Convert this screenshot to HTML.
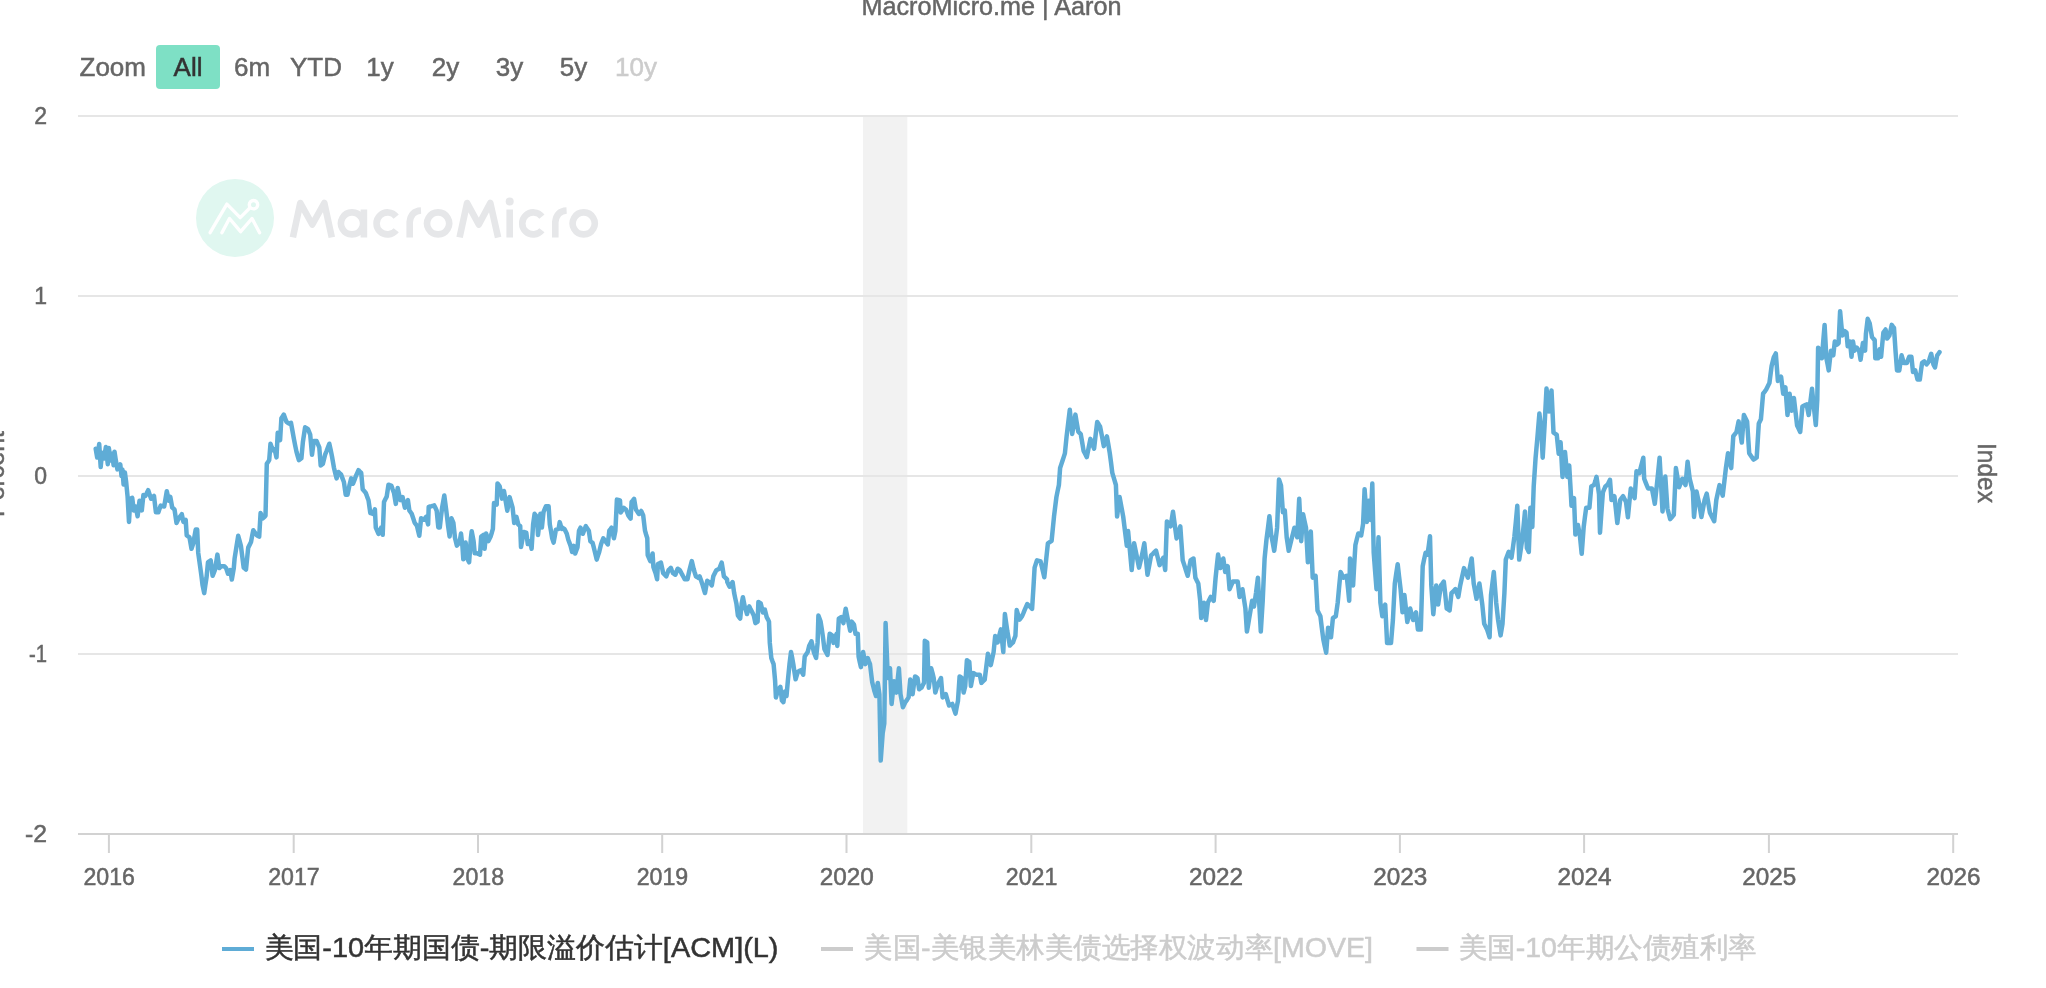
<!DOCTYPE html>
<html><head><meta charset="utf-8"><style>
html,body{margin:0;padding:0;background:#ffffff;width:2046px;height:988px;overflow:hidden;position:relative}
svg text{font-family:"Liberation Sans",sans-serif}
</style></head><body>
<svg width="2046" height="988" viewBox="0 0 2046 988" style="position:absolute;left:0;top:0;will-change:transform">
<rect x="863" y="116" width="44.3" height="718" fill="#f2f2f2"/>
<rect x="78" y="115" width="1880" height="2" fill="#e6e6e6"/>
<rect x="78" y="295" width="1880" height="2" fill="#e6e6e6"/>
<rect x="78" y="475" width="1880" height="2" fill="#e6e6e6"/>
<rect x="78" y="653" width="1880" height="2" fill="#e6e6e6"/>
<rect x="78" y="833" width="1880" height="2" fill="#d2d2d2"/>
<rect x="107.9" y="835" width="2" height="18" fill="#d2d2d2"/>
<rect x="292.7" y="835" width="2" height="18" fill="#d2d2d2"/>
<rect x="477.0" y="835" width="2" height="18" fill="#d2d2d2"/>
<rect x="661.2" y="835" width="2" height="18" fill="#d2d2d2"/>
<rect x="845.5" y="835" width="2" height="18" fill="#d2d2d2"/>
<rect x="1030.3" y="835" width="2" height="18" fill="#d2d2d2"/>
<rect x="1214.6" y="835" width="2" height="18" fill="#d2d2d2"/>
<rect x="1398.9" y="835" width="2" height="18" fill="#d2d2d2"/>
<rect x="1583.1" y="835" width="2" height="18" fill="#d2d2d2"/>
<rect x="1767.9" y="835" width="2" height="18" fill="#d2d2d2"/>
<rect x="1952.2" y="835" width="2" height="18" fill="#d2d2d2"/>
<circle cx="235" cy="218" r="39" fill="#e0f7f0"/>
<g fill="none" stroke="#ffffff" stroke-width="3.4" stroke-linecap="round" stroke-linejoin="round"><polyline points="210.1,232.7 226.9,204.1 240.2,217.6 250,207.8"/><polyline points="221.9,232.7 229.5,218.5 240.6,231.6 252.0,218.5 259.6,232.7"/><circle cx="253.5" cy="204.7" r="4.2"/></g>
<g fill="none" stroke="#e6e7e9" stroke-width="6.6" stroke-linejoin="round"><path d="M292.9,237.4 L300.3,203 L312.3,224.5 L324.3,203 L331.8,237.4 M352.0,212.4 a11.0,11.0 0 1 0 0.01,0 M363.9,209.5 L363.9,237.4 M396.2,216.6 A11.0,11.0 0 1 0 396.2,230.2 M409.7,237.4 L409.7,222 Q411,211 421,210.5 M438.1,212.4 a11.0,11.0 0 1 0 0.01,0 M459.6,237.4 L467.1,203 L478.8,224.5 L490.3,203 L498.1,237.4 M509.7,209.5 L509.7,237.4 M541.9,216.6 A11.0,11.0 0 1 0 541.9,230.2 M555.3,237.4 L555.3,222 Q556.6,211 566.6,210.5 M583.7,212.4 a11.0,11.0 0 1 0 0.01,0"/></g>
<circle cx="509.7" cy="201.5" r="4" fill="#e6e7e9"/>
<polyline points="95.7,448.8 97.2,457.5 99.2,444.0 100.7,467.1 102.0,452.7 104.0,458.5 105.9,446.9 107.8,464.2 108.8,447.9 110.7,460.4 112.2,453.7 113.6,465.2 114.5,451.7 115.5,458.3 117.4,469.4 118.9,466.9 120.3,464.4 121.5,476.0 122.4,469.4 123.6,484.6 124.9,472.5 126.1,481.5 127.6,496.9 129.0,521.9 130.3,498.8 132.2,497.9 133.8,510.4 135.7,506.5 137.6,516.2 139.5,500.8 140.7,505.6 141.8,510.4 143.4,495.0 145.3,496.0 146.8,493.1 148.2,490.2 149.6,494.5 151.1,498.8 152.5,497.4 154.0,496.0 155.9,512.3 157.1,512.3 158.4,512.3 159.5,508.9 160.7,505.6 162.4,506.1 164.2,506.5 165.5,498.8 166.8,491.2 168.8,500.8 170.3,496.9 172.2,507.5 173.4,508.5 174.5,509.4 176.5,522.9 177.7,520.5 179.0,518.1 180.4,516.2 181.8,514.2 183.4,521.9 184.5,521.0 185.7,520.0 186.7,535.4 188.1,536.3 189.5,537.3 191.5,548.8 193.4,543.1 194.5,536.3 195.7,529.6 197.2,529.6 198.2,552.7 200.1,566.2 201.4,575.8 202.6,585.4 204.2,593.1 205.3,585.4 206.5,577.7 208.0,562.3 209.3,561.3 210.7,560.4 212.6,575.8 213.8,572.9 214.9,570.0 216.2,562.3 217.4,554.6 219.3,568.1 221.3,566.2 222.7,566.2 224.2,566.2 226.1,568.1 228.0,573.8 229.2,571.9 230.3,570.0 231.8,579.6 233.8,568.1 234.6,558.5 236.4,547.1 238.2,535.8 239.6,540.8 240.9,545.8 242.3,556.7 243.7,567.6 244.9,568.5 246.0,569.5 248.2,547.6 249.6,544.9 251.0,542.1 252.1,536.2 253.3,530.3 254.9,532.6 256.4,534.8 257.8,535.8 259.2,536.7 260.6,513.0 262.8,518.4 264.2,517.1 265.5,515.7 266.8,463.8 268.0,462.0 269.2,460.1 270.5,443.7 271.6,446.9 272.8,450.1 274.6,449.2 276.5,457.4 277.7,432.8 278.9,436.4 280.1,440.1 281.4,418.2 282.6,416.4 283.8,414.6 285.1,418.2 286.5,421.9 287.9,422.8 289.2,423.7 291.0,422.8 292.4,430.5 293.8,438.3 295.1,445.1 296.5,451.9 297.7,456.0 298.9,460.1 300.2,459.2 301.4,458.3 302.9,441.9 305.1,427.3 306.5,428.2 308.0,429.2 310.2,434.6 312.0,454.7 313.8,441.0 315.2,441.0 316.6,441.0 317.9,444.2 319.3,447.4 320.7,465.6 322.9,463.8 325.1,454.7 326.6,451.0 327.9,447.4 329.3,443.7 330.7,450.1 332.0,456.5 333.9,467.4 335.2,472.9 336.6,478.4 338.4,472.0 339.8,473.3 341.2,474.7 342.5,478.4 343.9,482.0 345.7,494.8 347.5,494.8 349.4,485.6 351.2,478.4 353.0,483.8 354.4,480.2 355.7,476.5 357.1,473.3 358.5,470.2 359.8,471.5 361.2,472.9 362.7,489.3 364.2,491.1 365.8,492.9 367.1,496.6 368.5,500.2 370.3,513.0 371.7,513.4 373.0,513.9 374.9,509.3 375.8,527.6 377.1,530.7 378.5,533.9 379.9,530.7 381.2,527.6 382.7,534.8 384.0,502.0 385.3,499.3 386.7,496.6 388.5,484.7 389.9,485.2 391.3,485.6 392.6,489.3 394.0,492.9 395.8,503.9 397.7,487.9 399.0,494.0 400.3,500.1 401.5,498.6 402.6,497.1 403.7,502.4 404.9,507.7 406.4,503.9 407.9,500.1 409.4,510.7 410.6,512.2 411.7,513.8 413.2,518.3 414.7,522.9 415.9,524.4 417.0,525.9 418.1,530.8 419.3,535.8 421.1,518.3 422.5,519.1 423.8,519.8 425.0,518.3 426.1,516.8 428.1,524.4 428.7,506.9 430.1,506.5 431.4,506.2 432.8,505.8 434.2,505.4 435.5,508.1 436.7,510.7 438.3,527.4 439.8,527.4 440.9,517.5 442.1,507.7 443.2,501.6 444.3,495.5 446.3,510.7 448.1,525.9 449.6,536.5 451.5,518.3 453.4,522.9 455.0,538.0 456.9,545.6 458.2,544.1 459.5,542.6 461.0,533.5 462.5,547.1 463.3,559.3 464.4,550.9 465.6,542.6 467.6,559.3 469.1,562.3 470.9,538.0 471.7,531.2 473.6,541.1 474.7,553.2 475.8,553.2 477.0,553.2 478.5,554.0 480.0,554.7 481.2,536.5 483.3,535.0 484.6,548.7 486.1,533.5 487.2,537.3 488.4,541.1 489.5,538.8 490.6,536.5 491.8,532.7 492.9,528.9 494.0,503.1 495.3,503.9 496.7,504.6 497.5,483.4 498.6,484.9 499.7,486.4 500.9,492.5 502.0,498.6 504.0,491.0 505.5,500.1 507.3,510.7 508.5,503.9 509.6,497.1 511.1,502.4 512.6,507.7 514.2,522.9 515.3,519.8 516.4,516.8 518.3,524.4 520.2,525.9 521.0,547.1 522.4,539.6 523.7,532.0 525.0,532.3 526.3,532.7 527.8,544.1 529.0,542.6 530.1,541.1 531.6,548.7 533.1,524.4 534.6,513.8 535.8,515.3 536.9,516.8 538.0,535.0 539.2,524.4 540.4,513.8 541.9,527.4 543.5,512.2 544.7,509.2 546.0,506.2 547.3,506.2 548.6,506.2 549.8,524.4 551.0,531.2 552.1,538.0 553.6,542.6 554.8,536.1 555.9,529.7 557.3,529.3 558.6,528.9 559.7,522.1 560.8,525.5 562.0,528.9 562.3,527.7 563.4,528.4 564.6,529.2 565.7,531.5 566.8,533.8 568.3,539.8 569.5,542.9 570.6,545.9 572.1,552.0 573.7,545.9 575.2,553.5 576.3,550.4 577.5,547.4 579.0,530.7 580.5,527.7 581.6,530.7 582.8,533.8 584.3,530.0 585.8,526.2 587.3,528.4 588.8,530.7 590.4,541.3 591.5,542.1 592.6,542.9 593.8,547.4 594.9,552.0 596.7,559.6 597.9,555.8 599.2,552.0 601.0,544.4 602.1,541.3 603.3,538.3 604.4,539.8 605.5,541.3 606.7,542.9 607.8,544.4 609.3,530.7 610.5,529.2 611.6,527.7 612.7,533.0 613.9,538.3 615.4,530.7 616.9,499.6 618.4,500.0 620.0,500.4 620.7,512.5 622.2,510.2 623.8,507.9 624.9,508.7 626.0,509.5 627.2,512.5 628.3,515.5 629.4,517.1 630.6,518.6 631.6,501.9 632.9,500.4 634.1,498.8 635.9,509.5 637.4,511.7 638.9,514.0 640.1,512.5 641.2,511.0 643.2,515.5 645.0,530.7 646.1,534.5 647.3,538.3 647.7,555.0 649.0,558.0 650.3,561.1 651.5,557.3 652.6,553.5 653.4,567.1 654.5,570.2 655.6,573.2 657.1,579.3 657.9,564.1 659.4,563.4 660.9,562.6 662.1,567.9 663.2,573.2 664.7,574.7 666.3,576.3 667.4,573.2 668.5,570.2 669.7,569.0 670.8,567.9 671.9,570.6 673.1,573.2 674.2,574.0 675.4,574.7 676.5,571.7 677.6,568.7 678.8,569.4 679.9,570.2 681.1,572.5 682.2,574.7 683.5,577.0 684.8,579.3 686.1,579.3 687.5,579.3 688.6,574.0 689.8,568.7 691.8,561.1 693.6,568.7 694.7,572.5 695.9,576.3 697.0,577.0 698.1,577.8 699.6,576.3 701.2,580.8 702.7,585.4 703.8,589.2 705.0,593.0 706.1,586.9 707.2,580.8 708.4,581.6 709.5,582.3 710.7,583.8 711.8,585.4 713.3,576.3 714.8,573.2 716.3,570.2 717.9,569.4 719.4,568.7 720.5,565.6 721.7,562.6 722.8,569.4 723.9,576.3 725.5,577.8 727.0,579.3 727.3,582.1 728.4,584.4 729.6,586.7 731.1,584.4 732.6,582.1 734.1,592.8 735.2,598.1 736.4,603.4 737.9,615.5 739.0,617.1 740.2,618.6 741.7,603.4 742.9,597.3 744.7,606.4 745.9,610.2 747.0,614.0 748.1,610.2 749.3,606.4 750.4,608.7 751.6,611.0 752.7,613.3 753.8,615.5 755.4,623.1 756.5,622.4 757.6,621.6 758.4,601.9 759.5,602.6 760.7,603.4 761.8,607.9 762.9,612.5 764.8,609.5 766.7,617.1 767.9,619.3 769.0,621.6 769.8,642.9 771.3,658.0 772.4,661.1 773.6,664.1 775.1,680.8 775.9,697.5 777.0,693.7 778.1,689.9 779.3,688.4 780.4,686.9 781.9,700.5 783.4,702.1 785.0,691.4 786.5,696.0 788.0,679.3 789.5,664.1 791.0,652.0 792.2,658.0 793.3,664.1 794.4,671.7 795.6,679.3 796.7,675.5 797.9,671.7 799.4,670.9 800.9,670.2 802.0,672.5 803.2,674.7 804.7,656.5 806.2,654.2 807.7,652.0 809.2,645.9 810.4,643.6 811.5,641.3 812.7,646.7 813.8,652.0 814.9,655.0 816.1,658.0 817.6,642.9 818.4,615.5 819.5,618.6 820.6,621.6 821.8,629.2 822.9,636.8 824.4,648.9 825.9,652.0 827.5,655.0 828.6,644.4 829.7,633.8 830.9,634.5 832.0,635.3 833.5,642.9 835.0,638.3 836.6,633.8 837.3,645.9 838.8,618.6 840.0,617.8 841.1,617.1 842.3,620.1 843.4,623.1 844.5,615.9 845.7,608.7 846.8,614.4 848.0,620.1 849.1,625.4 850.2,630.7 851.7,621.6 852.9,623.1 854.0,624.6 855.5,633.8 856.7,633.8 857.8,633.8 858.6,656.5 859.7,661.8 860.9,667.1 862.0,659.6 863.1,652.0 864.3,658.0 865.4,664.1 866.5,661.1 867.7,658.0 868.8,661.1 870.0,664.1 871.1,673.2 872.2,682.3 873.4,686.9 874.5,691.4 876.0,696.0 877.8,682.9 879.4,694.2 880.7,760.6 882.7,733.1 884.3,723.3 885.6,623.0 886.7,650.5 887.8,678.0 890.0,668.3 891.6,703.9 892.8,692.6 894.0,681.2 895.2,686.9 896.4,692.6 897.6,680.4 898.9,668.3 900.5,694.2 901.7,700.7 902.9,707.2 904.1,704.7 905.3,702.3 907.0,699.9 908.6,697.4 910.2,679.6 911.4,686.9 912.6,694.2 913.8,685.3 915.1,676.4 916.3,677.2 917.5,678.0 919.1,689.3 920.3,688.5 921.5,687.7 922.7,685.3 924.0,682.9 924.8,640.8 926.0,641.6 927.2,642.4 928.8,687.7 930.0,678.0 931.2,668.3 932.5,673.1 933.7,678.0 935.3,692.6 936.5,688.5 937.7,684.5 939.3,681.2 941.0,678.0 942.6,697.4 944.2,695.8 945.8,694.2 947.4,699.9 949.1,705.5 950.7,704.7 952.3,703.9 953.9,708.8 955.5,713.6 956.7,707.2 958.0,700.7 959.6,676.4 960.8,677.2 962.0,678.0 963.6,692.6 965.2,686.1 966.9,660.2 968.1,661.0 969.3,661.8 970.9,686.1 972.1,679.6 973.3,673.1 975.0,674.0 976.6,674.8 978.2,674.8 979.8,674.8 981.4,682.9 983.1,681.2 984.7,679.6 986.3,666.7 987.9,653.7 989.4,659.4 990.8,665.1 992.2,658.6 993.6,652.1 995.2,635.9 996.4,639.1 997.6,642.4 999.2,635.9 1000.9,629.4 1002.1,640.8 1003.3,652.1 1004.9,614.0 1006.1,622.5 1007.3,631.0 1008.6,638.3 1009.8,645.6 1011.4,644.0 1013.0,642.4 1014.2,639.1 1015.4,635.9 1016.7,610.0 1018.1,614.9 1019.5,619.7 1020.7,618.1 1021.9,616.5 1023.3,613.4 1024.6,610.2 1025.9,607.1 1027.3,604.0 1028.9,605.6 1030.5,607.2 1032.1,608.8 1033.4,588.2 1034.6,567.6 1035.8,563.9 1037.0,560.3 1038.8,560.9 1040.6,561.5 1042.5,569.4 1044.3,577.3 1046.1,560.3 1047.9,543.3 1049.7,542.1 1051.6,540.8 1052.8,528.7 1054.0,516.6 1055.2,506.8 1056.4,497.1 1057.6,491.1 1058.9,485.0 1060.1,468.0 1061.3,464.4 1062.5,460.7 1063.7,457.1 1064.9,453.4 1066.6,436.4 1068.2,423.1 1069.8,409.7 1071.0,421.9 1072.2,434.0 1073.8,424.3 1075.4,414.6 1076.8,423.1 1078.3,431.6 1079.5,432.8 1080.7,434.0 1082.2,442.5 1083.6,451.0 1085.2,454.0 1086.8,457.1 1088.6,448.0 1090.4,438.9 1092.2,443.7 1094.1,448.6 1095.6,435.2 1097.2,421.9 1098.7,424.3 1100.1,426.7 1102.0,436.4 1103.8,446.1 1105.4,441.3 1106.9,436.4 1108.4,444.9 1109.8,453.4 1111.1,463.1 1112.3,472.9 1114.1,478.9 1115.9,485.0 1117.1,516.6 1118.3,506.8 1119.6,497.1 1121.4,506.8 1123.2,516.6 1125.0,531.1 1126.8,545.7 1128.1,531.1 1129.9,550.6 1131.7,570.0 1132.9,556.6 1134.1,543.3 1135.8,551.4 1137.4,559.5 1139.0,567.6 1140.2,562.7 1141.4,557.8 1142.9,550.6 1144.3,543.3 1145.9,559.1 1147.5,574.8 1149.3,565.1 1151.1,555.4 1152.8,553.8 1154.4,552.2 1156.0,550.6 1157.8,557.8 1159.6,565.1 1161.5,561.5 1163.3,557.8 1165.2,570.0 1166.9,521.4 1168.7,523.8 1170.6,526.3 1171.8,519.0 1173.0,511.7 1174.8,525.1 1176.6,538.4 1178.5,532.3 1180.3,526.3 1181.5,543.3 1182.7,560.3 1184.4,565.4 1186.0,570.6 1187.7,575.8 1189.1,568.1 1190.6,560.4 1192.0,559.4 1193.5,558.5 1195.4,577.7 1196.8,580.6 1198.3,583.5 1200.2,600.8 1201.2,618.1 1202.6,610.4 1204.0,602.7 1206.0,620.0 1207.9,602.7 1209.3,599.8 1210.8,596.9 1212.2,598.8 1213.7,600.8 1215.6,577.7 1216.8,566.2 1218.1,554.6 1219.2,561.3 1220.4,568.1 1221.8,563.3 1223.3,558.5 1225.2,571.9 1226.4,569.0 1227.7,566.2 1229.6,589.2 1231.2,585.4 1232.9,581.5 1234.5,581.5 1236.1,581.5 1237.7,581.5 1239.6,596.9 1241.1,593.1 1242.5,589.2 1243.9,598.8 1245.4,608.5 1246.9,631.5 1248.1,624.8 1249.2,618.1 1250.7,609.4 1252.1,600.8 1254.0,606.5 1256.0,593.1 1257.9,577.7 1259.3,604.6 1260.8,631.5 1262.7,600.8 1264.6,558.5 1266.5,539.2 1268.0,527.7 1269.4,516.2 1271.3,535.4 1272.8,543.1 1274.2,550.8 1275.7,539.2 1277.1,527.7 1279.0,479.6 1281.0,485.4 1282.9,512.3 1284.8,510.4 1286.7,537.3 1288.7,550.8 1290.1,545.0 1291.5,539.2 1293.0,533.5 1294.4,527.7 1295.9,532.5 1297.3,537.3 1299.2,498.8 1301.2,541.2 1303.1,514.2 1304.5,521.0 1306.0,527.7 1307.9,562.3 1309.3,546.9 1310.8,531.5 1312.7,577.7 1314.1,576.7 1315.6,575.8 1317.5,610.4 1318.9,613.3 1320.4,616.2 1321.8,627.7 1323.3,639.2 1324.7,646.0 1326.2,652.7 1328.1,627.7 1329.5,632.5 1331.0,637.3 1332.9,618.1 1334.3,617.1 1335.8,616.2 1337.7,602.7 1339.1,587.3 1340.6,571.9 1342.0,574.8 1343.5,577.7 1345.1,576.7 1346.7,575.8 1348.0,588.3 1349.2,600.8 1350.0,558.5 1351.5,571.9 1353.1,585.4 1354.2,565.2 1355.4,545.0 1356.8,539.2 1358.3,533.5 1359.7,534.4 1361.2,535.4 1363.1,523.8 1364.6,489.2 1365.8,505.6 1366.9,521.9 1368.8,500.8 1370.8,520.0 1372.3,483.5 1373.7,552.7 1375.1,571.0 1376.5,589.2 1378.5,537.3 1380.4,602.7 1382.3,616.2 1383.8,610.4 1385.2,604.6 1387.1,643.1 1388.4,643.1 1389.7,643.1 1391.0,643.1 1392.9,620.0 1394.8,583.5 1396.2,573.8 1397.7,564.2 1399.1,576.7 1400.6,589.2 1402.5,612.3 1404.4,595.0 1405.9,608.5 1407.3,621.9 1408.8,615.2 1410.2,608.5 1411.6,614.2 1413.1,620.0 1414.5,616.2 1416.0,612.3 1417.9,629.6 1419.3,629.6 1420.8,629.6 1422.7,566.2 1424.1,559.4 1425.6,552.7 1427.5,554.6 1428.8,545.5 1430.0,536.3 1431.3,585.4 1433.3,614.2 1434.7,599.8 1436.2,585.4 1438.1,604.6 1439.5,595.0 1441.0,585.4 1442.4,583.5 1443.8,581.5 1445.3,595.0 1446.7,608.5 1448.2,609.4 1449.6,610.4 1451.5,593.1 1452.8,591.8 1454.1,590.5 1455.4,589.2 1456.8,593.1 1458.3,596.9 1460.2,585.4 1461.5,579.6 1462.8,573.8 1464.0,568.1 1465.3,571.3 1466.6,574.5 1467.9,577.7 1469.2,571.3 1470.4,564.9 1471.7,558.5 1473.7,583.5 1475.1,591.2 1476.5,598.8 1478.0,591.2 1479.4,583.5 1480.9,594.0 1482.3,604.6 1484.2,623.8 1485.7,626.7 1487.1,629.6 1488.4,633.5 1489.6,637.3 1491.0,595.0 1492.4,583.5 1493.8,571.9 1495.0,587.3 1496.2,602.7 1498.1,620.0 1499.3,627.7 1500.6,635.4 1502.5,623.8 1504.4,593.1 1505.8,559.6 1507.2,555.8 1508.7,551.9 1510.1,554.8 1511.5,557.7 1513.0,547.1 1514.4,536.5 1515.9,521.2 1517.3,505.8 1519.2,559.6 1520.7,550.0 1522.1,540.4 1523.6,526.0 1525.0,511.5 1526.9,548.1 1528.8,551.9 1530.4,507.7 1532.3,526.9 1533.7,486.5 1535.6,457.7 1537.5,436.5 1539.4,413.5 1541.3,430.8 1542.7,457.7 1544.6,425.0 1546.5,388.5 1547.8,400.0 1549.0,411.5 1550.3,401.0 1551.5,390.4 1553.5,432.7 1555.1,433.7 1556.7,434.6 1558.7,453.8 1560.6,442.3 1562.5,476.9 1563.8,464.4 1565.0,451.9 1566.2,464.4 1567.3,476.9 1569.2,465.4 1570.4,485.6 1571.5,505.8 1572.8,501.9 1574.0,498.1 1575.4,534.6 1576.6,529.8 1577.9,525.0 1579.8,534.6 1581.7,553.8 1583.7,526.9 1584.9,517.3 1586.2,507.7 1587.8,507.7 1589.4,507.7 1591.3,486.5 1592.8,485.6 1594.2,484.6 1595.4,480.8 1596.5,476.9 1597.8,485.6 1599.0,494.2 1600.0,532.7 1601.4,512.5 1602.9,492.3 1604.1,489.4 1605.4,486.5 1606.5,485.6 1607.7,484.6 1608.8,482.2 1610.0,479.8 1611.5,500.0 1613.0,498.1 1614.4,496.2 1615.9,509.6 1617.3,523.1 1618.8,511.5 1620.2,500.0 1621.6,498.1 1623.1,496.2 1624.5,499.0 1626.0,501.9 1627.9,517.3 1629.3,502.9 1630.8,488.5 1632.1,491.7 1633.3,494.9 1634.6,498.1 1636.5,471.2 1638.0,472.1 1639.4,473.1 1640.7,467.9 1642.0,462.8 1643.3,457.7 1644.2,478.8 1645.5,482.1 1646.8,485.3 1648.1,488.5 1649.4,488.5 1650.6,488.5 1651.9,488.5 1653.4,496.2 1654.8,503.8 1656.7,486.5 1658.2,472.1 1659.6,457.7 1661.1,484.6 1662.5,511.5 1663.9,494.1 1665.3,476.6 1667.4,508.5 1668.8,513.8 1670.2,519.1 1672.0,517.0 1673.8,514.9 1675.9,468.1 1677.5,477.7 1679.1,487.2 1680.7,483.0 1682.3,478.7 1683.9,481.9 1685.5,485.1 1687.6,461.7 1689.7,478.7 1691.3,485.1 1692.9,491.5 1694.0,517.0 1695.3,504.2 1696.5,491.5 1697.9,497.9 1699.3,504.2 1701.4,517.0 1703.0,508.5 1704.6,500.0 1706.7,493.6 1708.3,503.2 1709.9,512.7 1711.4,515.6 1712.8,518.4 1714.2,521.2 1716.3,500.0 1717.9,492.6 1719.5,485.1 1721.1,490.4 1722.7,495.7 1724.3,481.9 1725.9,468.1 1728.0,453.2 1729.6,460.7 1731.2,468.1 1733.3,436.2 1734.9,434.1 1736.5,432.0 1738.6,421.4 1740.2,432.0 1741.8,442.6 1743.9,415.0 1745.5,418.2 1747.1,421.4 1749.2,453.2 1750.7,455.4 1752.1,457.5 1753.5,459.6 1755.1,458.6 1756.7,457.5 1758.8,423.5 1760.9,419.2 1763.1,393.7 1764.7,391.6 1766.2,389.5 1767.8,386.3 1769.4,383.1 1771.6,366.1 1773.7,357.6 1775.8,353.4 1777.9,381.0 1779.5,378.9 1781.1,376.7 1783.2,393.7 1785.4,387.4 1787.5,415.0 1789.6,393.7 1791.7,410.7 1793.9,398.0 1795.5,411.8 1797.1,425.6 1798.7,428.8 1800.2,432.0 1802.4,406.5 1803.8,405.8 1805.2,405.1 1806.6,404.4 1808.7,415.0 1810.4,401.8 1812.0,388.7 1813.5,403.8 1814.7,414.5 1815.8,425.1 1817.3,399.3 1818.1,347.7 1819.2,349.2 1820.4,350.7 1821.9,358.3 1823.2,341.6 1824.6,324.9 1826.4,358.3 1827.6,364.4 1828.7,370.4 1829.8,360.6 1831.0,350.7 1832.1,353.0 1833.3,355.3 1834.8,341.6 1835.9,343.1 1837.1,344.6 1838.6,343.1 1840.1,311.3 1841.2,323.4 1842.4,335.5 1843.5,333.3 1844.6,331.0 1846.5,332.5 1847.7,346.2 1848.8,343.9 1850.0,341.6 1851.5,356.8 1853.0,341.6 1854.5,350.7 1855.6,349.2 1856.8,347.7 1857.9,349.2 1859.1,350.7 1860.6,359.8 1861.7,351.5 1862.9,343.1 1864.0,346.9 1865.1,350.7 1865.9,334.0 1867.7,318.8 1869.7,323.4 1870.8,330.2 1872.0,337.1 1873.3,338.6 1874.7,340.1 1875.3,358.3 1876.7,358.3 1878.0,358.3 1879.6,349.2 1881.1,356.8 1882.2,344.6 1883.4,332.5 1884.5,331.0 1885.6,329.5 1887.1,338.6 1888.3,337.1 1889.4,335.5 1890.6,330.2 1891.7,324.9 1892.8,326.4 1894.0,327.9 1895.5,350.7 1897.0,370.4 1898.2,370.4 1899.3,370.4 1900.4,362.9 1901.6,355.3 1902.7,359.1 1903.8,362.9 1905.4,362.9 1906.9,362.9 1908.0,359.8 1909.2,356.8 1910.3,356.8 1911.4,356.8 1913.0,372.0 1914.1,371.2 1915.2,370.4 1916.4,375.0 1917.5,379.6 1918.6,379.6 1919.8,379.6 1920.9,371.2 1922.1,362.9 1923.2,362.1 1924.3,361.3 1925.5,362.9 1926.6,364.4 1927.8,362.9 1928.9,361.3 1930.0,357.5 1931.2,353.8 1932.3,359.1 1933.4,364.4 1935.0,367.4 1936.1,361.3 1937.2,355.3 1938.4,353.8 1939.5,352.2" fill="none" stroke="#5facd6" stroke-width="4.5" stroke-linejoin="round" stroke-linecap="round"/>
<text x="109.2" y="885" text-anchor="middle" font-size="23" fill="#666666" stroke="#666666" stroke-width="0.5" textLength="51.5" lengthAdjust="spacingAndGlyphs">2016</text>
<text x="294.0" y="885" text-anchor="middle" font-size="23" fill="#666666" stroke="#666666" stroke-width="0.5" textLength="51.5" lengthAdjust="spacingAndGlyphs">2017</text>
<text x="478.3" y="885" text-anchor="middle" font-size="23" fill="#666666" stroke="#666666" stroke-width="0.5" textLength="51.5" lengthAdjust="spacingAndGlyphs">2018</text>
<text x="662.5" y="885" text-anchor="middle" font-size="23" fill="#666666" stroke="#666666" stroke-width="0.5" textLength="51.5" lengthAdjust="spacingAndGlyphs">2019</text>
<text x="846.8" y="885" text-anchor="middle" font-size="23" fill="#666666" stroke="#666666" stroke-width="0.5" textLength="54" lengthAdjust="spacingAndGlyphs">2020</text>
<text x="1031.6" y="885" text-anchor="middle" font-size="23" fill="#666666" stroke="#666666" stroke-width="0.5" textLength="51.5" lengthAdjust="spacingAndGlyphs">2021</text>
<text x="1215.9" y="885" text-anchor="middle" font-size="23" fill="#666666" stroke="#666666" stroke-width="0.5" textLength="54" lengthAdjust="spacingAndGlyphs">2022</text>
<text x="1400.2" y="885" text-anchor="middle" font-size="23" fill="#666666" stroke="#666666" stroke-width="0.5" textLength="54" lengthAdjust="spacingAndGlyphs">2023</text>
<text x="1584.4" y="885" text-anchor="middle" font-size="23" fill="#666666" stroke="#666666" stroke-width="0.5" textLength="54" lengthAdjust="spacingAndGlyphs">2024</text>
<text x="1769.2" y="885" text-anchor="middle" font-size="23" fill="#666666" stroke="#666666" stroke-width="0.5" textLength="54" lengthAdjust="spacingAndGlyphs">2025</text>
<text x="1953.5" y="885" text-anchor="middle" font-size="23" fill="#666666" stroke="#666666" stroke-width="0.5" textLength="54" lengthAdjust="spacingAndGlyphs">2026</text>
<text x="47" y="124" text-anchor="end" font-size="23" fill="#666666" stroke="#666666" stroke-width="0.5">2</text>
<text x="47" y="304" text-anchor="end" font-size="23" fill="#666666" stroke="#666666" stroke-width="0.5">1</text>
<text x="47" y="484" text-anchor="end" font-size="23" fill="#666666" stroke="#666666" stroke-width="0.5">0</text>
<text x="47" y="662" text-anchor="end" font-size="23" fill="#666666" stroke="#666666" stroke-width="0.5" textLength="18" lengthAdjust="spacingAndGlyphs">-1</text>
<text x="47" y="842" text-anchor="end" font-size="23" fill="#666666" stroke="#666666" stroke-width="0.5" textLength="22" lengthAdjust="spacingAndGlyphs">-2</text>
<text transform="translate(4.3,474) rotate(-90)" text-anchor="middle" font-size="26" fill="#666666" stroke="#666666" stroke-width="0.5" textLength="86" lengthAdjust="spacingAndGlyphs">Percent</text>
<text transform="translate(1977.5,473) rotate(90)" text-anchor="middle" font-size="26" fill="#666666" stroke="#666666" stroke-width="0.5" textLength="60" lengthAdjust="spacingAndGlyphs">Index</text>
<text x="991.5" y="14.7" text-anchor="middle" font-size="26" fill="#666666" stroke="#666666" stroke-width="0.5" textLength="260" lengthAdjust="spacingAndGlyphs">MacroMicro.me | Aaron</text>
<text x="79.5" y="76.2" font-size="26" fill="#666666" stroke="#666666" stroke-width="0.5">Zoom</text>
<rect x="156" y="45" width="64" height="44" rx="4" fill="#7ee0c5"/>
<text x="188" y="76.2" text-anchor="middle" font-size="26" fill="#333333" stroke="#333333" stroke-width="0.5">All</text>
<text x="252" y="76.2" text-anchor="middle" font-size="26" fill="#666666" stroke="#666666" stroke-width="0.5">6m</text>
<text x="316" y="76.2" text-anchor="middle" font-size="26" fill="#666666" stroke="#666666" stroke-width="0.5">YTD</text>
<text x="380" y="76.2" text-anchor="middle" font-size="26" fill="#666666" stroke="#666666" stroke-width="0.5">1y</text>
<text x="445.5" y="76.2" text-anchor="middle" font-size="26" fill="#666666" stroke="#666666" stroke-width="0.5">2y</text>
<text x="509.5" y="76.2" text-anchor="middle" font-size="26" fill="#666666" stroke="#666666" stroke-width="0.5">3y</text>
<text x="573.5" y="76.2" text-anchor="middle" font-size="26" fill="#666666" stroke="#666666" stroke-width="0.5">5y</text>
<text x="636" y="76.2" text-anchor="middle" font-size="26" fill="#cccccc" stroke="#cccccc" stroke-width="0.5">10y</text>
<rect x="222" y="947" width="32" height="4" fill="#5facd6"/>
<text x="264.5" y="956.5" font-size="28" fill="#333333" stroke="#333333" stroke-width="0.5" textLength="514" lengthAdjust="spacingAndGlyphs">美国-10年期国债-期限溢价估计[ACM](L)</text>
<rect x="821" y="947" width="32" height="4" fill="#cccccc"/>
<text x="864" y="956.5" font-size="28" fill="#cccccc" stroke="#cccccc" stroke-width="0.5" textLength="509" lengthAdjust="spacingAndGlyphs">美国-美银美林美债选择权波动率[MOVE]</text>
<rect x="1416.5" y="947" width="32" height="4" fill="#cccccc"/>
<text x="1458.7" y="956.5" font-size="28" fill="#cccccc" stroke="#cccccc" stroke-width="0.5" textLength="298" lengthAdjust="spacingAndGlyphs">美国-10年期公债殖利率</text>
</svg>
</body></html>
